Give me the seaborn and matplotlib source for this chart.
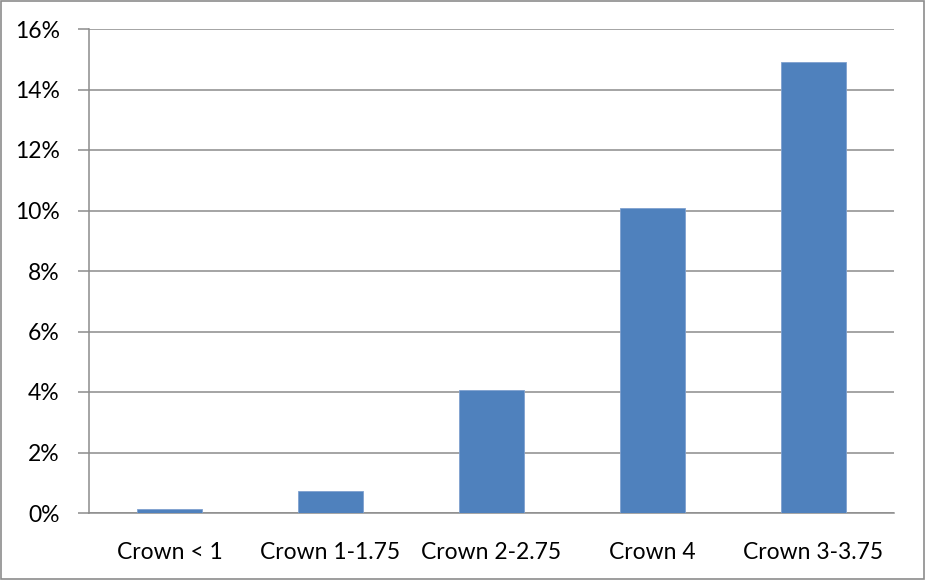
import matplotlib
matplotlib.use("Agg")
import matplotlib.pyplot as plt
import matplotlib.ticker as mticker
import seaborn as sns
import pandas as pd

# Values (percent)
categories = ["Crown < 1", "Crown 1-1.75", "Crown 2-2.75", "Crown 4", "Crown 3-3.75"]
shares = [0.14, 0.73, 4.07, 10.07, 14.9]
y_ticks = [0, 2, 4, 6, 8, 10, 12, 14, 16]

df = pd.DataFrame({"category": categories, "share": shares})

sns.set_theme(style="white")
plt.rcParams["font.family"] = ["Lato", "DejaVu Sans"]

fig = plt.figure(figsize=(9.26, 5.8), dpi=100)
ax = fig.add_axes([89 / 926, 1 - 513 / 580, (894 - 89) / 926, (513 - 29) / 580])

sns.barplot(data=df, x="category", y="share", color="#4F81BD", saturation=1,
            width=0.40, edgecolor="#7FA1CF", linewidth=0.6, ax=ax, zorder=3)

ax.set_ylim(0, 16)
ax.set_xlim(-0.5, len(categories) - 0.5)
ax.set_yticks(y_ticks)
ax.yaxis.set_major_formatter(mticker.FuncFormatter(lambda v, p: f"{int(v)}%"))
ax.grid(axis="y", color="#8C8C8C", linewidth=1.1, zorder=0)
ax.set_axisbelow(True)

# category boundaries carry the tick marks, labels sit in the middle
ax.set_xticks([i - 0.5 for i in range(len(categories) + 1)], minor=True)
ax.tick_params(axis="x", which="major", length=0, pad=21, labelsize=16.5, colors="black")
ax.tick_params(axis="x", which="minor", length=8, width=1.1, color="#8C8C8C", direction="out")
ax.tick_params(axis="y", which="major", length=8, width=1.1, color="#8C8C8C",
               direction="out", pad=13, labelsize=16.5, labelcolor="black", left=True)

for side in ["top", "right"]:
    ax.spines[side].set_visible(False)
for side in ["left", "bottom"]:
    ax.spines[side].set_color("#8C8C8C")
    ax.spines[side].set_linewidth(1.1)

ax.set_xlabel("")
ax.set_ylabel("")

# thin frame around the whole chart
fig.patches.append(plt.Rectangle((0.001, 0.001), 0.997, 0.997, transform=fig.transFigure,
                                 fill=False, edgecolor="#8C8C8C", linewidth=1.2))

fig.savefig("out.png", dpi=100)
